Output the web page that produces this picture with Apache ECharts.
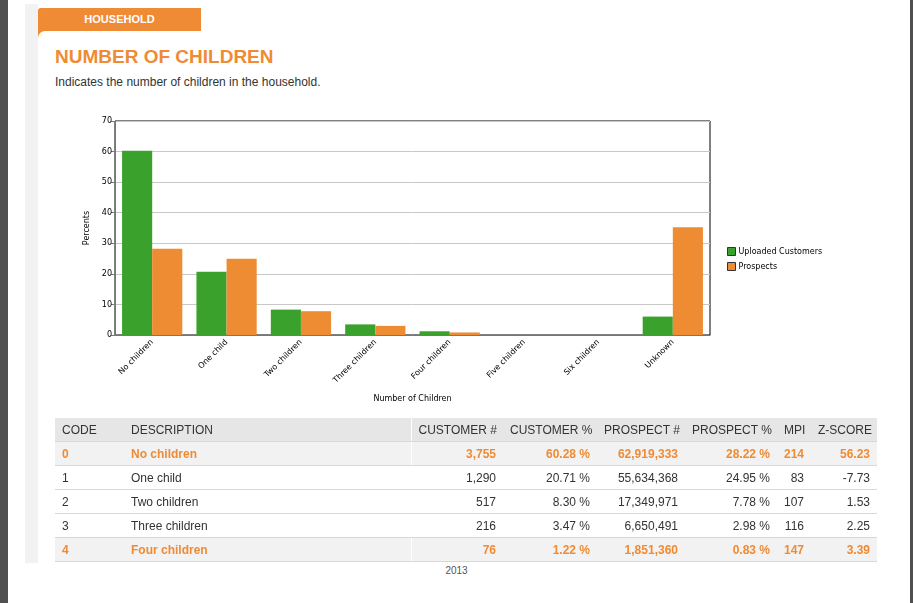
<!DOCTYPE html>
<html><head><meta charset="utf-8">
<script src="https://cdn.jsdelivr.net/npm/echarts@6/dist/echarts.min.js"></script>
<style>
html,body{margin:0;padding:0;width:913px;height:603px;overflow:hidden;background:#fff;font-family:"Liberation Sans",Arial,sans-serif;}
.abs{position:absolute;}
#lstrip{left:0;top:0;width:8px;height:603px;background:#505050;}
#rstrip{left:910px;top:0;width:3px;height:603px;background:#505050;}
#panel{left:25px;top:4px;width:13px;height:559px;background:#f2f2f2;}
#tab{left:38px;top:8px;width:163px;height:30px;background:#ef8b34;border-top-left-radius:3px;}
#tabtxt{left:38px;top:8px;width:163px;height:23px;line-height:23px;text-align:center;color:#fff;font-weight:bold;font-size:11px;}
#white{left:38px;top:31px;width:872px;height:560px;background:#fff;border-top-left-radius:7px;}
#title{left:55px;top:45px;line-height:24px;font-size:19px;font-weight:bold;color:#ef8b34;white-space:nowrap;}
#sub{left:55px;top:75px;line-height:14px;font-size:12px;color:#333;white-space:nowrap;}
#chart{left:0;top:0;width:913px;height:420px;}
table{position:absolute;left:55px;top:418px;width:822px;border-collapse:collapse;table-layout:fixed;font-size:12px;color:#333;}
td,th{padding:0 7px;height:23px;border-bottom:1px solid #d8d8d8;white-space:nowrap;font-weight:normal;}
th{background:#e6e6e6;text-align:left;}
th.r,td.r{text-align:right;}
tr.hl td{background:#f2f2f2;color:#ef8b34;font-weight:bold;}
td.sep,th.sep{border-left:1px solid #fff;}
#foot{left:0;top:565px;width:913px;text-align:center;font-size:10px;color:#555;}
</style></head>
<body>
<div class="abs" id="lstrip"></div>
<div class="abs" id="rstrip"></div>
<div class="abs" id="panel"></div>
<div class="abs" id="tab"></div>
<div class="abs" id="white"></div>
<div class="abs" id="tabtxt">HOUSEHOLD</div>
<div class="abs" id="title">NUMBER OF CHILDREN</div>
<div class="abs" id="sub">Indicates the number of children in the household.</div>
<div class="abs" id="chart"></div>
<table id="tbl"></table>
<div class="abs" id="foot">2013</div>
<script>
// ---- chart data ----
const categories = ["No children","One child","Two children","Three children","Four children","Five children","Six children","Unknown"];
const customersPct = [60.28, 20.71, 8.30, 3.47, 1.22, 0, 0, 6.02];
const prospectsPct = [28.22, 24.95, 7.78, 2.98, 0.83, 0, 0, 35.24];
const yTicks = [0,10,20,30,40,50,60,70];

// ---- table data ----
const tableHeaders = ["CODE","DESCRIPTION","CUSTOMER #","CUSTOMER %","PROSPECT #","PROSPECT %","MPI","Z-SCORE"];
const codes = ["0","1","2","3","4"];
const descriptions = ["No children","One child","Two children","Three children","Four children"];
const customerCounts = ["3,755","1,290","517","216","76"];
const customerPctText = ["60.28 %","20.71 %","8.30 %","3.47 %","1.22 %"];
const prospectCounts = ["62,919,333","55,634,368","17,349,971","6,650,491","1,851,360"];
const prospectPctText = ["28.22 %","24.95 %","7.78 %","2.98 %","0.83 %"];
const mpi = ["214","83","107","116","147"];
const zScores = ["56.23","-7.73","1.53","2.25","3.39"];
const highlightRows = [0,4];

// build table
const colWidths = [69,287,92,94,88,92,34,66];
const tbl = document.getElementById('tbl');
let html = '<colgroup>' + colWidths.map(w=>'<col style="width:'+w+'px">').join('') + '</colgroup>';
html += '<tr>' + tableHeaders.map((h,i)=>'<th class="'+(i>=2?'r':'')+(i===2?' sep':'')+'">'+h+'</th>').join('') + '</tr>';
for(let r=0;r<codes.length;r++){
  const vals=[codes[r],descriptions[r],customerCounts[r],customerPctText[r],prospectCounts[r],prospectPctText[r],mpi[r],zScores[r]];
  html += '<tr class="'+(highlightRows.includes(r)?'hl':'')+'">' + vals.map((v,i)=>'<td class="'+(i>=2?'r':'')+(i===2?' sep':'')+'">'+v+'</td>').join('') + '</tr>';
}
tbl.innerHTML = html;

// chart
const chart = echarts.init(document.getElementById('chart'), null, {renderer:'canvas'});
const fnt = '"DejaVu Sans", Verdana, sans-serif';
chart.setOption({
  animation:false,
  textStyle:{fontFamily:fnt},
  grid:{left:115,top:121,width:595,height:214,show:true,borderColor:'#000',borderWidth:1,backgroundColor:'transparent',containLabel:false},
  legend:{
    orient:'vertical',left:722,top:242,itemWidth:8,itemHeight:8,itemGap:6,
    icon:'rect',
    textStyle:{fontSize:8,color:'#000',fontFamily:fnt,padding:[0,0,0,-2]},
    itemStyle:{borderColor:'#333',borderWidth:1},
    data:['Uploaded Customers','Prospects']
  },
  xAxis:{
    type:'category',data:categories,
    name:'Number of Children',nameLocation:'middle',nameGap:60,
    nameTextStyle:{fontSize:8,color:'#000',fontFamily:fnt},
    axisLine:{lineStyle:{color:'#777',width:1}},
    axisTick:{alignWithLabel:true,length:5,lineStyle:{color:'#000'}},
    axisLabel:{rotate:45,interval:0,fontSize:8,color:'#000',margin:6,fontFamily:fnt},
    splitLine:{show:false}
  },
  yAxis:{
    type:'value',min:yTicks[0],max:yTicks[yTicks.length-1],interval:10,
    name:'Percents',nameLocation:'middle',nameGap:15,nameRotate:90,
    nameTextStyle:{fontSize:8,color:'#000',fontFamily:fnt},
    axisLine:{show:true,lineStyle:{color:'#777'}},
    axisTick:{show:true,length:4,lineStyle:{color:'#777'}},
    axisLabel:{fontSize:8,color:'#000',margin:3,fontFamily:fnt},
    splitLine:{lineStyle:{color:'#c8c8c8'}}
  },
  series:[
    {name:'Uploaded Customers',type:'bar',data:customersPct,barGap:'0%',barCategoryGap:'19%',itemStyle:{color:'#3aa22c'}},
    {name:'Prospects',type:'bar',data:prospectsPct,itemStyle:{color:'#ee8c33'}}
  ]
});
</script>
</body></html>
